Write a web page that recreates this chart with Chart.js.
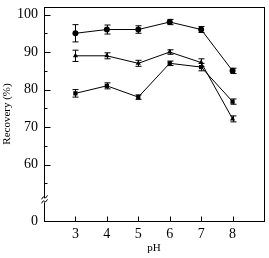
<!DOCTYPE html>
<html>
<head>
<meta charset="utf-8">
<script src="https://cdn.jsdelivr.net/npm/chart.js@4/dist/chart.umd.min.js"></script>
<style>
  body { margin: 0; background: #fff; }
  #chart { display: block; }
</style>
</head>
<body>
<canvas id="chart" width="269" height="258"></canvas>
<script>
// pH values on the x axis
const phValues = [3, 4, 5, 6, 7, 8];

// recovery (%) for the three series
const circleSeries = [95, 96, 96, 98, 96, 85];
const circleErr = [2.3, 1.2, 1.0, 0.7, 0.8, 0.7];

const triangleSeries = [89, 89, 87, 90, 87.2, 72.2];
const triangleErr = [1.5, 0.8, 0.8, 0.6, 1.0, 0.8];

const squareSeries = [79, 81, 78, 87, 86, 76.8];
const squareErr = [1.0, 0.8, 0.6, 0.6, 1.0, 0.7];

// tick labels
const xTickLabels = ["3", "4", "5", "6", "7", "8"];
const yMajor = [60, 70, 80, 90, 100];
const yMinor = [55, 65, 75, 85, 95];
const yBreakValue = 45; // drawn as "0" below the axis break

const serif = "'Liberation Serif', 'DejaVu Serif', serif";

function toPoints(ys) {
    return phValues.map((x, i) => ({ x: x, y: ys[i] }));
}

function makeSet(ys, errs, style) {
    return {
        data: toPoints(ys),
        errs: errs,
        borderColor: "#000",
        backgroundColor: "#000",
        borderWidth: 1,
        pointStyle: style,
        pointRadius: 3,
        pointBorderWidth: 0,
        tension: 0
    };
}

// error bars, frame, inner tick marks and the axis break
const extras = {
    id: "extras",
    afterDatasetsDraw(chart) {
        const ctx = chart.ctx;
        const x = chart.scales.x;
        const y = chart.scales.y;
        const a = chart.chartArea;
        ctx.save();
        ctx.strokeStyle = "#000";
        ctx.lineWidth = 1;

        chart.data.datasets.forEach(ds => {
            ds.data.forEach((p, i) => {
                const px = Math.round(x.getPixelForValue(p.x)) + 0.5;
                const top = y.getPixelForValue(p.y + ds.errs[i]);
                const bot = y.getPixelForValue(p.y - ds.errs[i]);
                ctx.beginPath();
                ctx.moveTo(px, top); ctx.lineTo(px, bot);
                ctx.moveTo(px - 3, top); ctx.lineTo(px + 3, top);
                ctx.moveTo(px - 3, bot); ctx.lineTo(px + 3, bot);
                ctx.stroke();
            });
        });

        // frame
        ctx.strokeRect(Math.round(a.left) + 0.5, Math.round(a.top) + 0.5,
            Math.round(a.right - a.left), Math.round(a.bottom - a.top));

        // y ticks pointing inwards
        const lx = Math.round(a.left) + 0.5;
        ctx.beginPath();
        yMajor.forEach(v => {
            const py = Math.round(y.getPixelForValue(v)) + 0.5;
            ctx.moveTo(lx, py); ctx.lineTo(lx + 6, py);
        });
        yMinor.forEach(v => {
            const py = Math.round(y.getPixelForValue(v)) + 0.5;
            ctx.moveTo(lx, py); ctx.lineTo(lx + 3, py);
        });
        // x ticks pointing up
        const by = Math.round(a.bottom) + 0.5;
        phValues.forEach(v => {
            const px = Math.round(x.getPixelForValue(v)) + 0.5;
            ctx.moveTo(px, by); ctx.lineTo(px, by - 5);
        });
        ctx.stroke();

        // axis break
        const yb = y.getPixelForValue(50.5);
        ctx.fillStyle = "#fff";
        ctx.fillRect(lx - 3, yb - 2, 6, 4);
        ctx.beginPath();
        ctx.moveTo(lx - 3, yb - 1);
        ctx.quadraticCurveTo(lx - 1, yb - 5, lx, yb - 3);
        ctx.quadraticCurveTo(lx + 1, yb - 1, lx + 3, yb - 5);
        ctx.moveTo(lx - 3, yb + 3);
        ctx.quadraticCurveTo(lx - 1, yb - 1, lx, yb + 1);
        ctx.quadraticCurveTo(lx + 1, yb + 3, lx + 3, yb - 1);
        ctx.stroke();
        ctx.restore();
    }
};

new Chart(document.getElementById("chart"), {
    type: "line",
    data: {
        datasets: [
            makeSet(circleSeries, circleErr, "circle"),
            makeSet(triangleSeries, triangleErr, "triangle"),
            makeSet(squareSeries, squareErr, "rect")
        ]
    },
    options: {
        responsive: false,
        animation: false,
        layout: { padding: { top: 7, right: 5, left: 0, bottom: 0 } },
        plugins: { legend: { display: false }, tooltip: { enabled: false } },
        scales: {
            x: {
                type: "linear",
                min: 2,
                max: 9,
                afterFit: s => {
                    s.height = 37;
                    s.paddingLeft = 0;
                    s.paddingRight = 0;
                },
                grid: { display: false, drawTicks: false },
                border: { display: false },
                ticks: {
                    stepSize: 1,
                    padding: 5,
                    autoSkip: false,
                    color: "#000",
                    font: { family: serif, size: 14 },
                    maxRotation: 0,
                    callback: v => xTickLabels.includes(String(v)) ? String(v) : ""
                },
                title: {
                    display: true,
                    text: "pH",
                    color: "#000",
                    font: { family: serif, size: 11 },
                    padding: { top: 0, bottom: 3 }
                }
            },
            y: {
                min: yBreakValue,
                max: 102,
                afterBuildTicks: s => {
                    s.ticks = [yBreakValue].concat(yMajor).map(v => ({ value: v }));
                },
                afterFit: s => {
                    s.width = 44;
                    s.paddingTop = 0;
                    s.paddingBottom = 0;
                },
                grid: { display: false, drawTicks: false },
                border: { display: false },
                ticks: {
                    padding: 6,
                    autoSkip: false,
                    color: "#000",
                    font: { family: serif, size: 14 },
                    callback: v => (v === yBreakValue ? "0" : String(v))
                },
                title: {
                    display: true,
                    text: "Recovery (%)",
                    color: "#000",
                    font: { family: serif, size: 11 },
                    padding: { top: 1, bottom: 0 }
                }
            }
        }
    },
    plugins: [extras]
});
</script>
</body>
</html>
